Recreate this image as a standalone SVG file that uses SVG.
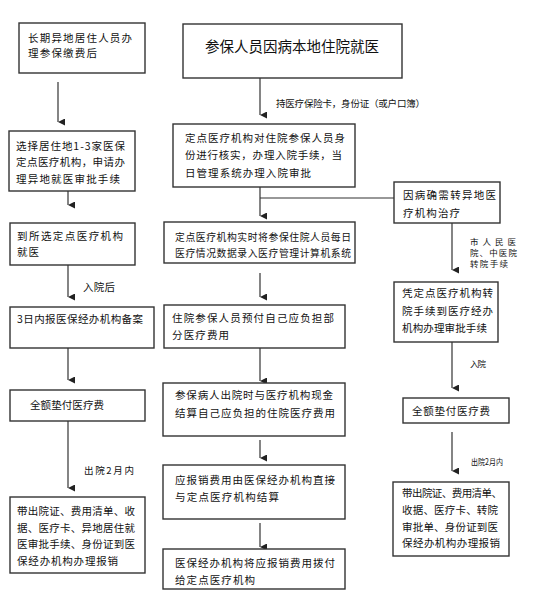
<svg xmlns="http://www.w3.org/2000/svg" width="545" height="606" viewBox="0 0 545 606">
<defs>
<marker id="ah" markerWidth="8" markerHeight="8" refX="3.5" refY="7" orient="auto" markerUnits="userSpaceOnUse" viewBox="0 0 8 8">
<path d="M0,0 L7,0 L3.5,7 Z" fill="#222"/>
</marker>
<style>
.box{fill:#fff;stroke:#333;stroke-width:1.4}
.ln{fill:none;stroke:#333;stroke-width:1.2}
.arr{fill:none;stroke:#333;stroke-width:1.2;marker-end:url(#ah)}
text{font-family:"Noto Sans CJK SC","Noto Sans",sans-serif;fill:#111}
.t{font-size:10.5px}
.s{font-size:9.8px}
.l{font-size:9.5px}
.m{font-size:8.5px}
.big{font-size:14.5px}
</style>
</defs>
<rect width="545" height="606" fill="#fff"/>

<g id="connectors">
<line class="arr" x1="58" y1="82" x2="58" y2="122"/>
<line class="arr" x1="68" y1="191" x2="68" y2="205"/>
<line class="arr" x1="68" y1="265" x2="68" y2="297"/>
<line class="arr" x1="68" y1="348" x2="68" y2="380"/>
<line class="arr" x1="68" y1="421" x2="68" y2="488"/>
<line class="arr" x1="260" y1="78" x2="260" y2="115"/>
<line class="arr" x1="260" y1="187" x2="260" y2="216"/>
<line class="ln" x1="260" y1="198" x2="394" y2="198"/>
<line class="arr" x1="260" y1="273" x2="260" y2="297"/>
<line class="arr" x1="260" y1="348" x2="260" y2="381"/>
<line class="arr" x1="260" y1="440" x2="260" y2="458"/>
<line class="arr" x1="260" y1="523" x2="260" y2="547"/>
<line class="arr" x1="452" y1="223" x2="452" y2="270"/>
<line class="arr" x1="452" y1="342" x2="452" y2="388"/>
<line class="arr" x1="452" y1="432" x2="452" y2="471"/>
<text class="t" x="83" y="291" textLength="32">入院后</text>
<text class="l" x="84" y="474" textLength="50">出院2月内</text>
<text class="l" x="276" y="107" textLength="149">持医疗保险卡，身份证（或户口簿）</text>
<text class="m" x="470" y="245" textLength="46">市人民医</text>
<text class="m" x="470" y="256" textLength="47">院、中医院</text>
<text class="m" x="470" y="267" textLength="38">转院手续</text>
<text class="m" x="470" y="367" textLength="16">入院</text>
<text class="m" x="471" y="465" textLength="32" lengthAdjust="spacingAndGlyphs">出院2月内</text>
</g>

<g id="n_left1">
<rect class="box" x="19" y="23" width="126" height="50"/>
<text class="t" x="28" y="42" textLength="104">长期异地居住人员办</text>
<text class="t" x="28" y="57" textLength="69">理参保缴费后</text>
</g>
<g id="n_left2">
<rect class="box" x="9" y="131" width="126" height="60"/>
<text class="t" x="16" y="150" textLength="109">选择居住地1-3家医保</text>
<text class="t" x="16" y="166" textLength="109">定点医疗机构，申请办</text>
<text class="t" x="16" y="183" textLength="104">理异地就医审批手续</text>
</g>
<g id="n_left3">
<rect class="box" x="10" y="223" width="125" height="42"/>
<text class="t" x="17" y="240" textLength="106">到所选定点医疗机构</text>
<text class="t" x="17" y="256" textLength="22">就医</text>
</g>
<g id="n_left4">
<rect class="box" x="10" y="307" width="144" height="41"/>
<text class="t" x="17" y="323" textLength="126">3日内报医保经办机构备案</text>
</g>
<g id="n_left5">
<rect class="box" x="10" y="390" width="135" height="31"/>
<text class="t" x="30" y="409" textLength="74">全额垫付医疗费</text>
</g>
<g id="n_left6">
<rect class="box" x="10" y="497" width="135" height="76"/>
<text class="t" x="17" y="515" textLength="118">带出院证、费用清单、收</text>
<text class="t" x="17" y="532" textLength="118">据、医疗卡、异地居住就</text>
<text class="t" x="17" y="548" textLength="118">医审批手续、身份证到医</text>
<text class="t" x="17" y="565" textLength="101">保经办机构办理报销</text>
</g>

<g id="n_midA">
<rect class="box" x="183" y="24" width="219" height="54"/>
<text class="big" x="292" y="52" text-anchor="middle">参保人员因病本地住院就医</text>
</g>
<g id="n_midB">
<rect class="box" x="173" y="124" width="182" height="63"/>
<text class="t" x="185" y="142" textLength="160">定点医疗机构对住院参保人员身</text>
<text class="t" x="185" y="159" textLength="157">份进行核实，办理入院手续，当</text>
<text class="t" x="185" y="177" textLength="126">日管理系统办理入院审批</text>
</g>
<g id="n_midC">
<rect class="box" x="164" y="222" width="191" height="41"/>
<text class="s" x="175" y="241" textLength="176">定点医疗机构实时将参保住院人员每日</text>
<text class="s" x="175" y="257" textLength="176">医疗情况数据录入医疗管理计算机系统</text>
</g>
<g id="n_midD">
<rect class="box" x="164" y="305" width="181" height="43"/>
<text class="t" x="172" y="322" textLength="162">住院参保人员预付自己应负担部</text>
<text class="t" x="172" y="339" textLength="57">分医疗费用</text>
</g>
<g id="n_midE">
<rect class="box" x="163" y="383" width="182" height="53"/>
<text class="t" x="175" y="399" textLength="158">参保病人出院时与医疗机构现金</text>
<text class="t" x="175" y="417" textLength="160">结算自己应负担的住院医疗费用</text>
</g>
<g id="n_midF">
<rect class="box" x="163" y="465" width="182" height="54"/>
<text class="t" x="175" y="484" textLength="160">应报销费用由医保经办机构直接</text>
<text class="t" x="175" y="501" textLength="104">与定点医疗机构结算</text>
</g>
<g id="n_midG">
<rect class="box" x="163" y="549" width="182" height="40"/>
<text class="t" x="175" y="567" textLength="160">医保经办机构将应报销费用拨付</text>
<text class="t" x="175" y="584" textLength="80">给定点医疗机构</text>
</g>

<g id="n_right1">
<rect class="box" x="394" y="182" width="106" height="41"/>
<text class="t" x="403" y="199" textLength="93">因病确需转异地医</text>
<text class="t" x="403" y="217" textLength="57">疗机构治疗</text>
</g>
<g id="n_right2">
<rect class="box" x="394" y="282" width="104" height="60"/>
<text class="t" x="402" y="297" textLength="91">凭定点医疗机构转</text>
<text class="t" x="402" y="315" textLength="91">院手续到医疗经办</text>
<text class="t" x="402" y="332" textLength="85">机构办理审批手续</text>
</g>
<g id="n_right3">
<rect class="box" x="403" y="398" width="106" height="25"/>
<text class="t" x="412" y="415" textLength="78">全额垫付医疗费</text>
</g>
<g id="n_right4">
<rect class="box" x="393" y="482" width="116" height="74"/>
<text class="t" x="402" y="497" textLength="100">带出院证、费用清单、</text>
<text class="t" x="402" y="514" textLength="96">收据、医疗卡、转院</text>
<text class="t" x="402" y="531" textLength="96">审批单、身份证到医</text>
<text class="t" x="402" y="547" textLength="98">保经办机构办理报销</text>
</g>
</svg>
